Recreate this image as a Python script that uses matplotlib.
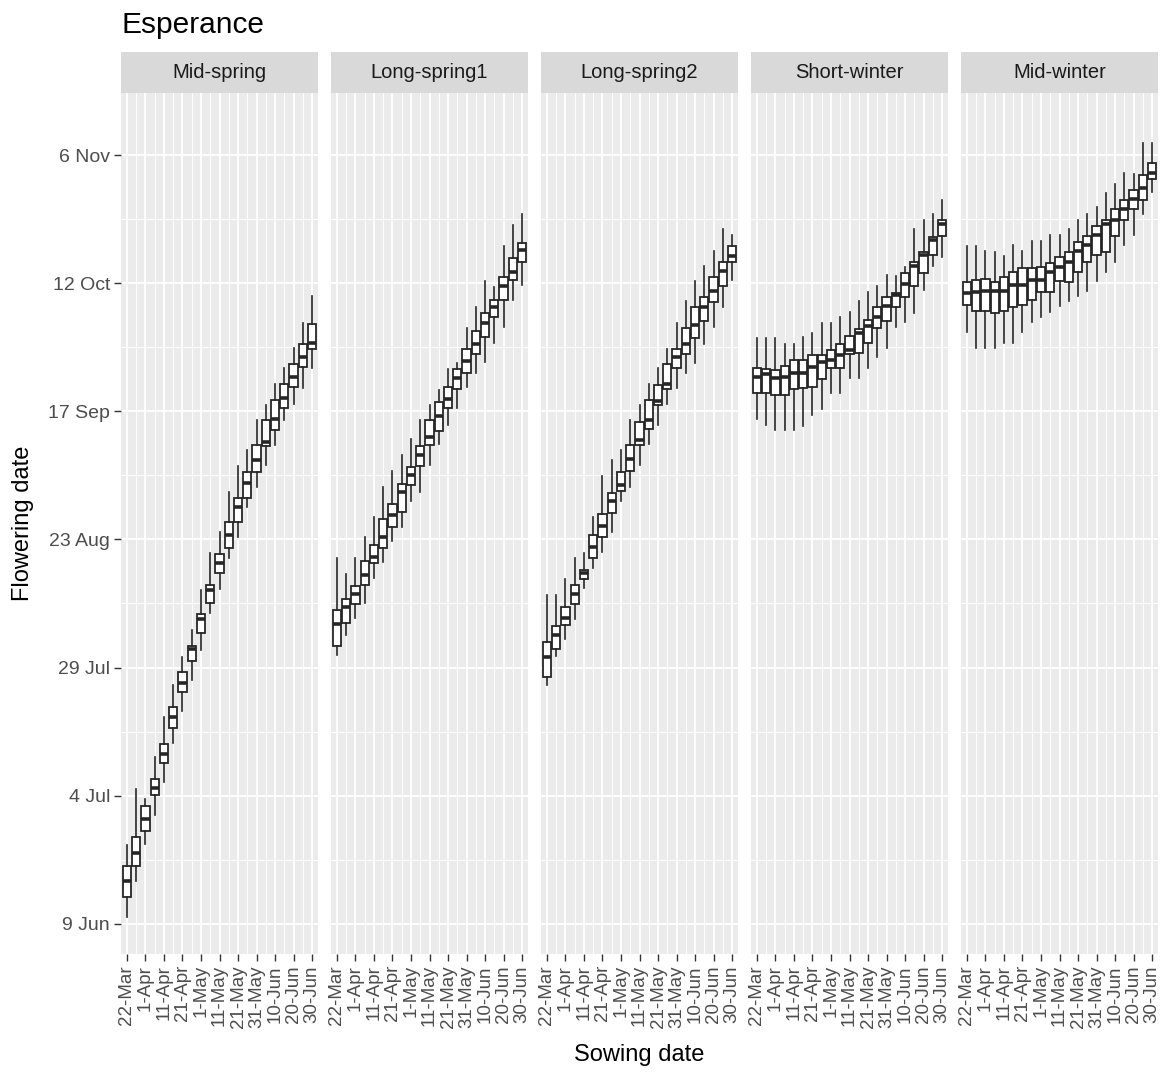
import matplotlib
matplotlib.use('Agg')
import matplotlib.pyplot as plt

plt.rcParams['font.family'] = ['Liberation Sans', 'DejaVu Sans']

# sowing dates (day of year), every 5 days from 22-Mar to 30-Jun
sowing = [81, 86, 91, 96, 101, 106, 111, 116, 121, 126, 131,
          136, 141, 146, 151, 156, 161, 166, 171, 176, 181]
x_ticks = [81, 91, 101, 111, 121, 131, 141, 151, 161, 171, 181]
x_labels = ['22-Mar', '1-Apr', '11-Apr', '21-Apr', '1-May', '11-May',
            '21-May', '31-May', '10-Jun', '20-Jun', '30-Jun']
y_ticks = [160, 185, 210, 235, 260, 285, 310]
y_labels = ['9 Jun', '4 Jul', '29 Jul', '23 Aug', '17 Sep', '12 Oct', '6 Nov']

# flowering date (day of year): (lower whisker, q1, median, q3, upper whisker)
mid_spring = [
    (161.3, 165.2, 168.4, 171.3, 175.4), (168.4, 171.3, 173.9, 177.0, 186.3),
    (175.5, 178.1, 180.4, 182.9, 184.4), (181.3, 185.2, 186.4, 188.3, 192.5),
    (187.6, 191.3, 193.2, 195.1, 200.4), (195.2, 198.2, 200.4, 202.3, 206.6),
    (201.5, 205.3, 206.9, 209.2, 212.1), (207.6, 211.2, 213.6, 214.2, 217.3),
    (213.4, 216.7, 219.5, 220.4, 225.1), (220.6, 222.6, 225.1, 226.1, 232.3),
    (225.3, 228.4, 230.3, 232.2, 236.5), (231.3, 233.4, 235.9, 238.3, 244.3),
    (235.4, 238.3, 241.3, 243.0, 249.3), (241.4, 243.0, 246.1, 248.2, 252.5),
    (245.3, 248.2, 250.5, 253.4, 258.3), (249.5, 253.3, 254.1, 258.2, 261.2),
    (253.4, 256.4, 258.4, 262.2, 265.3), (258.3, 260.6, 262.5, 265.3, 268.4),
    (261.4, 264.7, 266.6, 269.3, 272.3), (264.5, 268.6, 270.6, 273.1, 277.3),
    (268.4, 272.1, 273.4, 277.0, 282.4),
]
long_spring1 = [
    (212.5, 214.2, 218.5, 221.2, 231.3), (216.4, 218.6, 221.8, 223.3, 228.3),
    (219.6, 222.4, 224.3, 225.9, 231.3), (222.5, 226.1, 228.1, 230.8, 235.5),
    (227.4, 230.3, 231.5, 233.9, 239.4), (230.5, 233.4, 235.5, 239.0, 245.2),
    (234.6, 237.5, 239.8, 242.0, 248.4), (237.5, 240.4, 244.3, 245.8, 251.5),
    (242.4, 245.6, 247.6, 249.2, 254.5), (244.3, 249.3, 251.5, 253.2, 258.2),
    (249.5, 253.4, 255.0, 258.2, 261.2), (253.6, 256.2, 259.0, 261.9, 264.2),
    (257.3, 260.6, 262.4, 264.8, 268.2), (260.6, 264.3, 266.4, 268.2, 269.5),
    (264.8, 267.4, 269.9, 272.1, 276.2), (267.5, 271.2, 273.2, 275.7, 280.3),
    (269.7, 274.5, 277.3, 279.1, 285.5), (273.4, 278.3, 280.3, 281.8, 284.2),
    (276.4, 281.8, 284.4, 286.2, 292.2), (281.7, 285.6, 287.2, 290.0, 296.3),
    (284.6, 289.2, 291.5, 292.9, 298.5),
]
long_spring2 = [
    (206.6, 208.1, 212.1, 214.9, 224.2), (212.3, 213.6, 216.4, 218.1, 224.2),
    (215.5, 218.3, 219.6, 221.9, 227.2), (219.4, 222.4, 224.4, 226.1, 231.3),
    (225.5, 227.2, 228.5, 229.0, 232.3), (229.4, 231.3, 233.5, 235.9, 239.4),
    (232.6, 235.4, 237.6, 240.0, 247.4), (236.5, 240.1, 242.4, 244.1, 250.4),
    (242.4, 244.5, 245.6, 248.2, 252.5), (245.3, 248.4, 250.6, 253.4, 258.2),
    (249.5, 253.4, 254.3, 258.0, 261.2), (253.7, 256.5, 258.3, 262.2, 265.3),
    (257.3, 261.2, 262.1, 265.1, 268.4), (261.4, 264.3, 265.4, 269.3, 272.1),
    (264.5, 268.4, 270.6, 272.1, 277.3), (267.5, 271.2, 273.2, 276.2, 281.6),
    (269.5, 274.2, 276.8, 280.3, 285.5), (273.2, 277.7, 280.3, 282.3, 288.3),
    (276.4, 281.4, 283.5, 286.2, 291.3), (280.4, 284.4, 287.4, 289.2, 295.5),
    (285.7, 289.2, 290.3, 292.2, 294.4),
]
short_winter = [
    (258.4, 263.6, 266.6, 268.4, 274.2), (257.3, 263.6, 267.3, 268.2, 274.2),
    (256.4, 263.2, 266.4, 268.1, 274.2), (256.4, 263.2, 266.6, 268.8, 273.2),
    (256.4, 264.3, 267.5, 270.0, 273.2), (257.1, 264.5, 267.5, 270.0, 274.4),
    (259.3, 264.7, 268.7, 271.0, 275.2), (260.4, 266.2, 269.7, 271.0, 277.3),
    (263.5, 268.4, 270.1, 272.0, 277.3), (263.5, 268.4, 271.0, 273.1, 278.3),
    (266.4, 271.2, 272.0, 274.7, 279.4), (266.4, 271.4, 275.2, 276.0, 281.6),
    (268.4, 273.4, 276.6, 277.8, 283.3), (270.6, 276.2, 278.3, 280.3, 284.4),
    (272.3, 277.7, 280.5, 282.2, 286.6), (276.5, 280.3, 282.7, 283.1, 286.4),
    (277.5, 282.3, 284.8, 286.9, 288.1), (279.2, 284.4, 288.3, 289.2, 295.5),
    (283.7, 287.0, 290.5, 291.1, 297.3), (288.3, 290.5, 293.5, 294.0, 298.5),
    (290.1, 294.2, 296.5, 297.3, 301.3),
]
mid_winter = [
    (275.4, 280.7, 283.0, 285.3, 292.2), (272.3, 279.6, 283.3, 285.6, 292.2),
    (272.3, 279.6, 283.5, 285.9, 291.3), (272.3, 279.2, 283.5, 285.3, 291.1),
    (273.4, 279.6, 283.5, 286.2, 290.3), (273.4, 280.3, 284.6, 287.1, 292.4),
    (275.4, 280.7, 284.6, 287.9, 291.3), (277.5, 281.7, 285.6, 287.9, 293.3),
    (278.4, 283.3, 285.6, 288.1, 293.3), (279.4, 283.3, 287.2, 289.0, 294.4),
    (280.5, 285.5, 288.2, 290.1, 294.4), (281.6, 285.3, 289.2, 291.1, 295.5),
    (282.5, 287.2, 291.3, 293.1, 297.4), (283.5, 289.2, 292.4, 294.2, 298.5),
    (285.5, 290.5, 294.4, 296.1, 299.8), (287.2, 291.1, 296.5, 297.3, 302.5),
    (289.2, 294.2, 297.4, 299.4, 304.3), (292.4, 297.4, 299.4, 301.3, 306.5),
    (294.4, 299.4, 301.5, 303.2, 306.3), (298.5, 301.3, 303.5, 306.1, 312.4),
    (302.8, 305.3, 306.5, 308.4, 312.4),
]

panels = [('Mid-spring', mid_spring), ('Long-spring1', long_spring1),
          ('Long-spring2', long_spring2), ('Short-winter', short_winter),
          ('Mid-winter', mid_winter)]

W, H = 1172, 1072
fig = plt.figure(figsize=(W / 100, H / 100), dpi=100)
fig.patch.set_facecolor('white')

lefts = [121, 331, 541, 751, 961]
pw = 197
ptop, pbot, stop = 93, 954, 52

for i, (name, rows) in enumerate(panels):
    l = lefts[i]
    ax = fig.add_axes([l / W, 1 - pbot / H, pw / W, (pbot - ptop) / H])
    ax.set_facecolor('#EBEBEB')
    for s in ax.spines.values():
        s.set_visible(False)

    stats = [dict(whislo=r[0], q1=r[1], med=r[2], q3=r[3], whishi=r[4], fliers=[])
             for r in rows]
    ax.bxp(stats, positions=sowing, widths=4.5, showfliers=False, showcaps=False,
           patch_artist=True, manage_ticks=False,
           boxprops=dict(facecolor='white', edgecolor='#262626', linewidth=1.3),
           medianprops=dict(color='#262626', linewidth=2.6),
           whiskerprops=dict(color='#262626', linewidth=1.2))

    ax.set_xlim(77.8, 184.2)
    ax.set_ylim(154.1, 322.1)
    ax.set_xticks(x_ticks)
    ax.set_xticks([x + 5 for x in x_ticks[:-1]], minor=True)
    ax.set_yticks(y_ticks)
    ax.set_yticks([y + 12.5 for y in y_ticks[:-1]], minor=True)
    ax.grid(which='major', color='white', linewidth=1.3)
    ax.grid(which='minor', color='white', linewidth=0.7)
    ax.set_axisbelow(True)
    ax.tick_params(which='minor', length=0)
    ax.tick_params(which='major', length=5, width=1, color='#333333',
                   labelcolor='#4D4D4D', labelsize=14, pad=3)
    ax.tick_params(axis='x', labelsize=13.5)
    ax.set_xticklabels(x_labels, rotation=90, ha='center', va='top')
    if i == 0:
        ax.set_yticklabels(y_labels)
    else:
        ax.tick_params(axis='y', left=False, labelleft=False)

    # facet strip
    sax = fig.add_axes([l / W, 1 - ptop / H, pw / W, (ptop - stop) / H])
    sax.set_facecolor('#D9D9D9')
    sax.set_xticks([])
    sax.set_yticks([])
    for s in sax.spines.values():
        s.set_visible(False)
    sax.text(0.5, 0.5, name, ha='center', va='center', fontsize=14.5,
             color='#1A1A1A', transform=sax.transAxes)

fig.text(121 / W, 1 - 25 / H, 'Esperance', fontsize=21.5, va='center', ha='left')
fig.text(23 / W, 1 - (ptop + pbot) / 2 / H, 'Flowering date', rotation=90,
         fontsize=17, va='center', ha='center')
fig.text((121 + 1158) / 2 / W, 1 - 1055 / H, 'Sowing date', fontsize=17,
         va='center', ha='center')

fig.savefig('out.png', dpi=100)
